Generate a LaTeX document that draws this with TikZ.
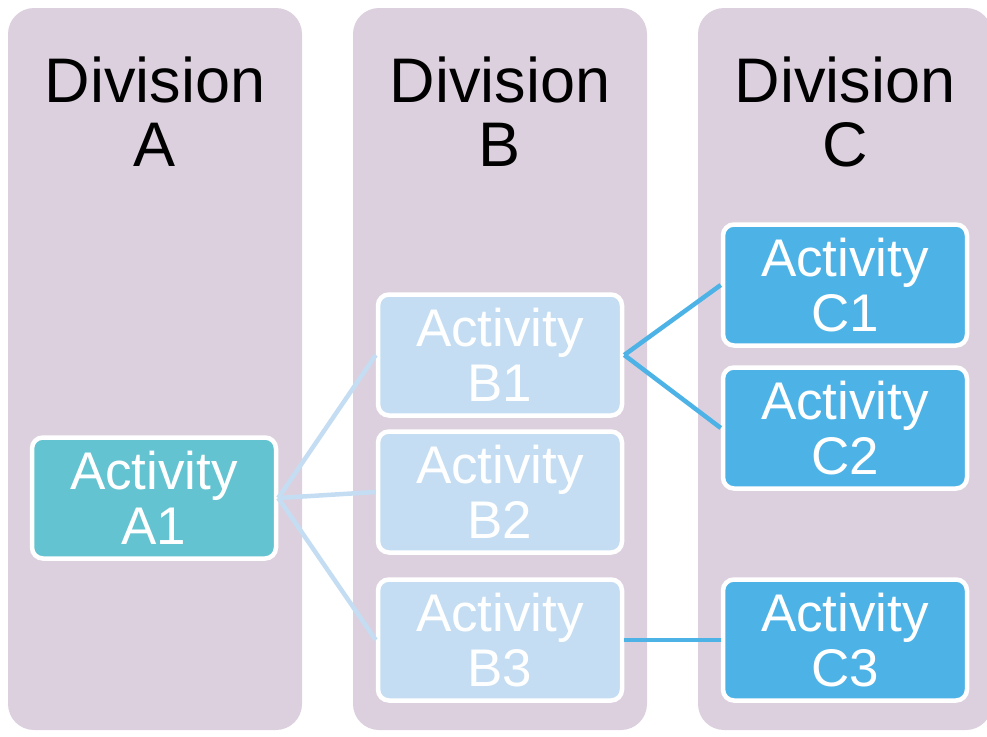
\documentclass[tikz,border=0pt]{standalone}
\usepackage{fontspec}
\setmainfont{Liberation Sans}
\usetikzlibrary{positioning}

\definecolor{colfill}{RGB}{220,208,222}
\definecolor{afill}{RGB}{99,195,208}
\definecolor{bfill}{RGB}{196,221,242}
\definecolor{cfill}{RGB}{77,179,230}

\begin{document}
\begin{tikzpicture}
	[x=1pt,y=-1pt,
	column/.style={shape=rectangle,fill=colfill,rounded corners=26pt,minimum width=294pt,minimum height=722pt,inner sep=0pt},
	title/.style={align=center,font=\fontsize{63}{64}\selectfont},
	act node/.style={shape=rectangle,draw=white,line width=4.5pt,rounded corners=11pt,minimum width=244pt,minimum height=121pt,inner sep=0pt,align=center,text=white,font=\fontsize{53}{55}\selectfont},
	blink/.style={draw=bfill,line width=4.5pt},
	clink/.style={draw=cfill,line width=4.5pt}]
	\useasboundingbox (0,0) rectangle (987,736);
	
	\node [column] (colA) at (155,369) {};
	\node [column] (colB) at (500,369) {};
	\node [column] (colC) at (845,369) {};
	
	\node [title] (divA) at (155,112) {Division\\A};
	\node [title] (divB) at (500,112) {Division\\B};
	\node [title] (divC) at (845,112) {Division\\C};
	
	\node [act node,fill=afill] (a1) at (154,498) {Activity\\A1};
	\node [act node,fill=bfill] (b1) at (500,355) {Activity\\B1};
	\node [act node,fill=bfill] (b2) at (500,492) {Activity\\B2};
	\node [act node,fill=bfill] (b3) at (500,640) {Activity\\B3};
	\node [act node,fill=cfill] (c1) at (845,285) {Activity\\C1};
	\node [act node,fill=cfill] (c2) at (845,428) {Activity\\C2};
	\node [act node,fill=cfill] (c3) at (845,640) {Activity\\C3};
	
	\path
	(a1.east) edge [blink] (b1.west)
	(a1.east) edge [blink] (b2.west)
	(a1.east) edge [blink] (b3.west)
	(b1.east) edge [clink] (c1.west)
	(b1.east) edge [clink] (c2.west)
	(b3.east) edge [clink] (c3.west)
	;
	
\end{tikzpicture}
\end{document}
